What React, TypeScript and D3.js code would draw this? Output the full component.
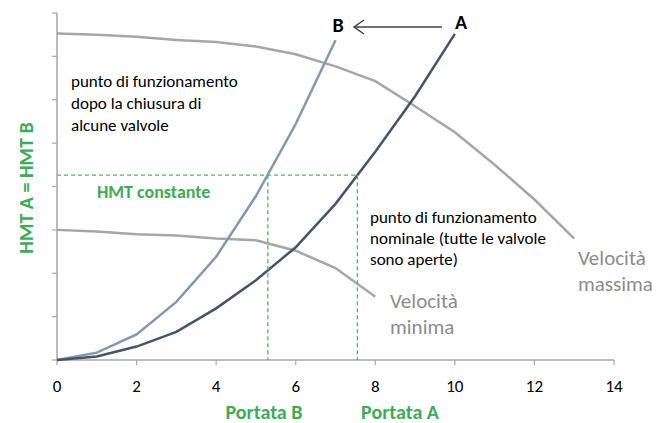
import React from 'react';
import * as d3 from 'd3';

// portata (x) for each curve point
const flowMax = [0, 1, 2, 3, 4, 5, 6, 7, 8, 9, 10, 11, 12, 13];
const velMax = [7.53, 7.5, 7.45, 7.38, 7.33, 7.23, 7.05, 6.77, 6.43, 5.85, 5.25, 4.5, 3.7, 2.8];
const flowMin = [0, 1, 2, 3, 4, 5, 6, 7, 8];
const velMin = [3.0, 2.96, 2.9, 2.87, 2.8, 2.76, 2.52, 2.12, 1.46];
const flowA = [0, 1, 2, 3, 4, 5, 6, 7, 8, 9, 10];
const curveA = [0, 0.08, 0.31, 0.65, 1.19, 1.84, 2.6, 3.6, 4.8, 6.08, 7.52];
const flowB = [0, 1, 2, 3, 4, 5, 6, 7];
const curveB = [0, 0.17, 0.59, 1.34, 2.38, 3.78, 5.44, 7.37];

const xTicks = [0, 2, 4, 6, 8, 10, 12, 14];
const yTicks = [0, 1, 2, 3, 4, 5, 6, 7, 8];

const hmtLevel = 4.26;
const portataB = 5.3;
const portataA = 7.55;

const FONT = "Carlito, Lato, 'Liberation Sans', sans-serif";
const GREEN = '#3aad56';
const GRAY = '#a6a6a6';

const App = () => {
    const x = d3.scaleLinear().domain([0, 14]).range([57, 614]);
    const y = d3.scaleLinear().domain([0, 8]).range([360, 13]);

    const path = (xs: number[], ys: number[]) =>
        d3.line<number>().x((_, i) => x(xs[i])).y(d => y(d))(ys) || '';

    return (
        <svg width={657} height={423} style={{ position: 'fixed', left: 0, top: 0, background: '#fff' }}
            fontFamily={FONT}>
            {/* axes */}
            <line x1={x(0)} x2={x(0)} y1={y(8)} y2={y(0)} stroke={GRAY} strokeWidth={1.5} />
            {yTicks.map(t => (
                <line key={'yt' + t} x1={x(0) - 5} x2={x(0)} y1={y(t)} y2={y(t)} stroke={GRAY} strokeWidth={1.2} />
            ))}
            <line x1={x(0)} x2={x(14)} y1={y(0)} y2={y(0)} stroke={GRAY} strokeWidth={1.5} />
            {xTicks.map(t => (
                <g key={'xt' + t}>
                    <line x1={x(t)} x2={x(t)} y1={y(0)} y2={y(0) + 5} stroke={GRAY} strokeWidth={1.2} />
                    <text x={x(t)} y={392} textAnchor="middle" fontSize={17} fill="#000">{t}</text>
                </g>
            ))}

            {/* speed curves */}
            <path d={path(flowMax, velMax)} fill="none" stroke={GRAY} strokeWidth={2.5} />
            <path d={path(flowMin, velMin)} fill="none" stroke={GRAY} strokeWidth={2.5} />

            {/* system curves */}
            <path d={path(flowB, curveB)} fill="none" stroke="#8497b0" strokeWidth={2.5} />
            <path d={path(flowA, curveA)} fill="none" stroke="#44546a" strokeWidth={2.5} />

            {/* constant head reference */}
            <g stroke="#4cb865" strokeWidth={1.3} strokeDasharray="4,3" fill="none">
                <line x1={x(0)} x2={x(portataA)} y1={y(hmtLevel)} y2={y(hmtLevel)} />
                <line x1={x(portataB)} x2={x(portataB)} y1={y(hmtLevel)} y2={y(0)} />
                <line x1={x(portataA)} x2={x(portataA)} y1={y(hmtLevel)} y2={y(0)} />
            </g>

            {/* arrow A -> B */}
            <g stroke="#404040" strokeWidth={1.5} fill="none">
                <line x1={442} x2={354} y1={27} y2={27} />
                <polyline points="364,20 354,27 364,34" />
            </g>
            <text x={338} y={32} textAnchor="middle" fontSize={20} fontWeight="bold">B</text>
            <text x={461} y={29} textAnchor="middle" fontSize={20} fontWeight="bold">A</text>

            {/* annotations */}
            <text x={71} fontSize={17} fill="#000">
                <tspan x={71} y={87}>punto di funzionamento</tspan>
                <tspan x={71} y={109}>dopo la chiusura di</tspan>
                <tspan x={71} y={131}>alcune valvole</tspan>
            </text>
            <text x={370} fontSize={17} fill="#000">
                <tspan x={370} y={223}>punto di funzionamento</tspan>
                <tspan x={370} y={244}>nominale (tutte le valvole</tspan>
                <tspan x={370} y={265}>sono aperte)</tspan>
            </text>
            <text x={97} y={198} fontSize={18} fontWeight="bold" fill={GREEN}>HMT constante</text>

            <text fontSize={21} fill="#8c8c8c">
                <tspan x={578} y={265}>Velocità</tspan>
                <tspan x={578} y={291}>massima</tspan>
            </text>
            <text fontSize={21} fill="#8c8c8c">
                <tspan x={390} y={308}>Velocità</tspan>
                <tspan x={390} y={334}>minima</tspan>
            </text>

            {/* axis titles */}
            <text transform="translate(33,188) rotate(-90)" textAnchor="middle" fontSize={20}
                fontWeight="bold" fill={GREEN}>HMT A = HMT B</text>
            <text x={264} y={419} textAnchor="middle" fontSize={20} fontWeight="bold" fill={GREEN}>Portata B</text>
            <text x={400} y={419} textAnchor="middle" fontSize={20} fontWeight="bold" fill={GREEN}>Portata A</text>
        </svg>
    );
};

export default App;
